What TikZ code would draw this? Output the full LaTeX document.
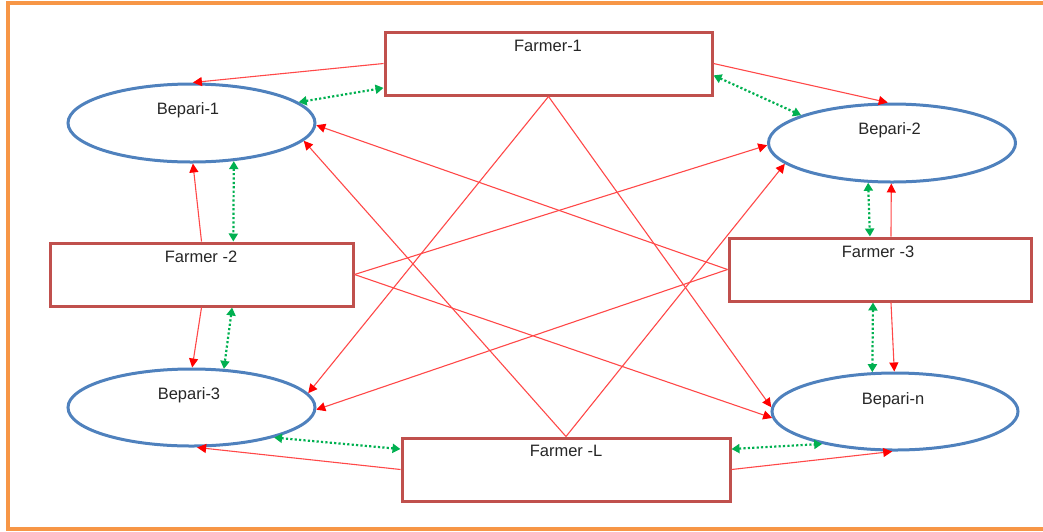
\documentclass[tikz,border=0pt]{standalone}
\usepackage{fontspec}
\setmainfont{Liberation Sans}
\usetikzlibrary{arrows.meta,shapes.geometric,calc}
\definecolor{frameor}{HTML}{F79646}
\definecolor{farmred}{HTML}{C0504D}
\definecolor{bepblue}{HTML}{4F81BD}
\definecolor{linkred}{HTML}{FF4848}
\definecolor{tradegreen}{HTML}{00B050}
\definecolor{txtgray}{HTML}{262626}
\begin{document}
\begin{tikzpicture}[x=1pt,y=-1pt,
  farmer/.style={draw=farmred, line width=3pt, rectangle, minimum width=#1, minimum height=63pt, inner sep=0pt},
  bepari/.style={draw=bepblue, line width=3pt, ellipse, minimum width=247pt, minimum height=78pt, inner sep=0pt},
  lbl/.style={anchor=base, inner sep=0pt, text=txtgray, font=\fontsize{16.5}{19}\selectfont},
  redlink/.style={draw=linkred, line width=1.1pt, -{Triangle[length=9pt,width=9pt,color=red]}},
  greenlink/.style={draw=tradegreen, line width=2.2pt, dash pattern=on 2.2pt off 2.2pt,
     {Triangle[length=8pt,width=9pt]}-{Triangle[length=8pt,width=9pt]}},
  frame/.style={draw=frameor, line width=3.5pt}]
\useasboundingbox (0,0) rectangle (1043,531);
\clip (0,0) rectangle (1043,531);
\draw[frame] (8,3) rectangle (1070,529);

% farmers
\node[farmer=327pt] (f1) at (548.5,63.5) {};
\node[farmer=303pt] (f2) at (201.5,274.5) {};
\node[farmer=302pt] (f3) at (880,269.5) {};
\node[farmer=328pt] (fL) at (566,469.5) {};
% beparis
\node[bepari] (b1) at (191.5,123) {};
\node[bepari] (b2) at (892,143) {};
\node[bepari, minimum height=77pt] (b3) at (191.5,407.5) {};
\node[bepari, minimum height=77pt, minimum width=246pt] (bn) at (895,411.5) {};

% labels
\node[lbl] (tf1) at (548,51) {Farmer-1};
\node[lbl] (tf2) at (201,262) {Farmer -2};
\node[lbl] (tf3) at (878,257) {Farmer -3};
\node[lbl] (tfL) at (566,456) {Farmer -L};
\node[lbl] (tb1) at (188,114.5) {Bepari-1};
\node[lbl] (tb2) at (889.5,134) {Bepari-2};
\node[lbl] (tb3) at (189,399) {Bepari-3};
\node[lbl] (tbn) at (893,404) {Bepari-n};

% red links
\draw[redlink] (f1.west) -- (b1.88);
\draw[redlink] (f1.east) -- (b2.96);
\draw[redlink] (f1.south) -- (b3.7);
\draw[redlink] (f1.south) -- (bn.178);
\draw[redlink] (f2.north) -- (b1.-88);
\draw[redlink] (f2.south) -- (b3.89);
\draw[redlink] (f2.east) -- (b2.181);
\draw[redlink] (f2.east) -- (bn.183.5);
\draw[redlink] (f3.west) -- (b1.-1);
\draw[redlink] (f3.west) -- (b3.-1);
\draw[redlink] ($(f3.north west)!0.536!(f3.north east)$) -- (b2.269);
\draw[redlink] ($(f3.south west)!0.536!(f3.south east)$) -- (bn.91);
\draw[redlink] (fL.north) -- (b1.-9);
\draw[redlink] (fL.north) -- (b2.191);
\draw[redlink] (fL.west) -- (b3.-82);
\draw[redlink] (fL.east) -- (bn.266);

% green links
\draw[greenlink] (b1.11) -- ($(f1.north west)!0.87!(f1.south west)$);
\draw[greenlink] ($(f1.north east)!0.68!(f1.south east)$) -- (b2.163);
\draw[greenlink] (b1.-42) -- ($(f2.north west)!0.604!(f2.north east)$);
\draw[greenlink] ($(f2.south west)!0.6!(f2.south east)$) -- (b3.50);
\draw[greenlink] (b3.-20) -- ($(fL.north west)!0.19!(fL.south west)$);
\draw[greenlink] ($(fL.north east)!0.19!(fL.south east)$) -- (bn.204);
\draw[greenlink] (b2.239) -- ($(f3.north west)!0.467!(f3.north east)$);
\draw[greenlink] ($(f3.south west)!0.477!(f3.south east)$) -- (bn.120);
\end{tikzpicture}
\end{document}
